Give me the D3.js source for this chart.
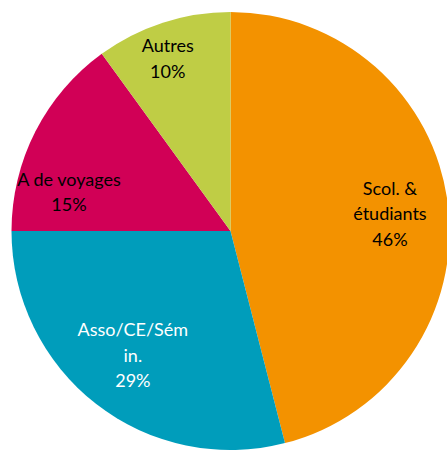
<!DOCTYPE html>
<html>
<head>
<meta charset="utf-8">
<script src="https://cdn.jsdelivr.net/npm/d3@7"></script>
<style>
  html, body { margin: 0; padding: 0; background: #fff; overflow: hidden; }
  svg { display: block; }
</style>
</head>
<body>
<div id="chart"></div>
<script>
// Segments clients (parts en %)
const categories = ["Scol. & étudiants", "Asso/CE/Sémin.", "A de voyages", "Autres"];
const shares = [46, 29, 15, 10];
const labelLines = [["Scol. &", "étudiants"], ["Asso/CE/Sém", "in."], ["A de voyages"], ["Autres"]];
const colors = ["#f39200", "#009dbb", "#d10056", "#bfcd45"];
const textColors = ["#000", "#fff", "#000", "#000"];

const width = 447;
const height = 450;
const cx = 230.5, cy = 231, radius = 219;

// small layout nudges so labels sit where the original placed them
const labelNudge = [[3, 3], [-1, 0], [-21, 33], [-14, -22]];

const svg = d3.select('#chart')
  .append('svg')
  .attr('width', width)
  .attr('height', height);

const g = svg.append('g')
  .attr('transform', `translate(${cx}, ${cy})`);

const pie = d3.pie().value(d => d).sort(null);
const arcs = pie(shares);

const arc = d3.arc().innerRadius(0).outerRadius(radius);
const labelArc = d3.arc().innerRadius(radius * 0.72).outerRadius(radius * 0.72);

g.selectAll('path')
  .data(arcs)
  .enter()
  .append('path')
  .attr('d', arc)
  .attr('fill', (d, i) => colors[i]);

const lineH = 25.5;
const labels = g.selectAll('text.lbl')
  .data(arcs)
  .enter()
  .append('text')
  .attr('class', 'lbl')
  .attr('text-anchor', 'middle')
  .style('font-family', 'Lato, "Open Sans", sans-serif')
  .style('font-size', '18px')
  .style('fill', (d, i) => textColors[i])
  .attr('transform', (d, i) => {
    const [x, y] = labelArc.centroid(d);
    return `translate(${x + labelNudge[i][0]}, ${y + labelNudge[i][1]})`;
  });

labels.each(function (d, i) {
  const lines = labelLines[i].concat([shares[i] + '%']);
  const t = d3.select(this);
  const y0 = -((lines.length - 1) * lineH) / 2 + 6;
  lines.forEach((l, k) => {
    t.append('tspan')
      .attr('x', 0)
      .attr('y', y0 + k * lineH)
      .text(l);
  });
});
</script>
</body>
</html>
